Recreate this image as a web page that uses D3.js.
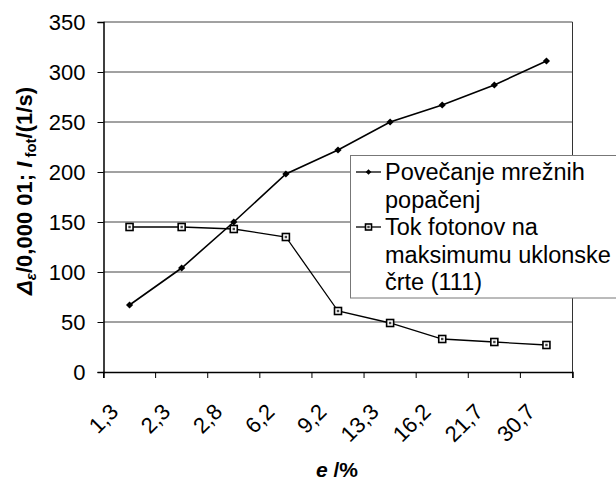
<!DOCTYPE html>
<html>
<head>
<meta charset="utf-8">
<script src="https://cdn.jsdelivr.net/npm/d3@7"></script>
<style>
  body { margin: 0; background: #fff; }
  svg { display: block; font-family: "Liberation Sans", Arial, sans-serif; }
</style>
</head>
<body>
<svg id="chart" width="616" height="481"></svg>
<script>
const categories = ["1,3", "2,3", "2,8", "6,2", "9,2", "13,3", "16,2", "21,7", "30,7"];
const distortion = [67, 104, 150, 198, 222, 250, 267, 287, 311];
const photonFlux = [145, 145, 143, 135, 61, 49, 33, 30, 27];
const yTicks = [0, 50, 100, 150, 200, 250, 300, 350];
const seriesNames = [["Povečanje mrežnih", "popačenj"], ["Tok fotonov na", "maksimumu uklonske", "črte (111)"]];

const svg = d3.select("#chart");
const pLeft = 103.5, pRight = 572.5, pTop = 22, pBottom = 372;

const x = d3.scaleBand().domain(categories).range([pLeft, pRight]).paddingInner(0).paddingOuter(0);
const y = d3.scaleLinear().domain([0, 350]).range([pBottom, pTop]);

// gridlines
svg.append("g").selectAll("line").data(yTicks.filter(d => d > 0)).join("line")
  .attr("x1", pLeft).attr("x2", pRight)
  .attr("y1", d => y(d)).attr("y2", d => y(d))
  .attr("stroke", "#444").attr("stroke-width", 1);

// right border
svg.append("line").attr("x1", pRight).attr("x2", pRight).attr("y1", pTop).attr("y2", pBottom + 6)
  .attr("stroke", "#333").attr("stroke-width", 1);

// y axis
const yAxis = d3.axisLeft(y).tickValues(yTicks).tickSize(6).tickPadding(12).tickFormat(d3.format("d"));
const gy = svg.append("g").attr("transform", `translate(${pLeft},0)`).call(yAxis);
gy.select(".domain").attr("stroke", "#000").attr("stroke-width", 1.5);
gy.selectAll(".tick line").attr("stroke", "#000");
gy.selectAll(".tick text").attr("font-size", 22).attr("fill", "#000")
  .attr("font-family", "Liberation Sans, Arial, sans-serif");

// x axis
const xAxis = d3.axisBottom(x).tickSize(6).tickFormat("");
const gx = svg.append("g").attr("transform", `translate(0,${pBottom})`).call(xAxis);
gx.select(".domain").attr("stroke", "#000").attr("stroke-width", 1.5);
gx.selectAll(".tick").remove();
const bounds = categories.map(c => x(c));
gx.selectAll("line.b").data(bounds).join("line").attr("class", "b")
  .attr("x1", d => d).attr("x2", d => d).attr("y1", 0).attr("y2", 6)
  .attr("stroke", "#000");

// x tick labels rotated
svg.append("g").selectAll("text").data(categories).join("text")
  .attr("transform", d => `translate(${x(d) + x.bandwidth() / 2 - 10},${pBottom + 41}) rotate(-45)`)
  .attr("text-anchor", "end")
  .attr("font-size", 22)
  .attr("fill", "#000")
  .attr("font-family", "Liberation Sans, Arial, sans-serif")
  .text(d => d);

// lines
const cx = d => x(d) + x.bandwidth() / 2;
const line = d3.line().x(d => cx(d[0])).y(d => y(d[1]));
svg.append("path").datum(categories.map((c, i) => [c, distortion[i]]))
  .attr("d", line).attr("fill", "none").attr("stroke", "#000").attr("stroke-width", 1.6);
svg.append("path").datum(categories.map((c, i) => [c, photonFlux[i]]))
  .attr("d", line).attr("fill", "none").attr("stroke", "#000").attr("stroke-width", 1.3);

// markers
const diamond = d3.symbol().type(d3.symbolSquare).size(26);
svg.append("g").selectAll("path").data(categories.map((c, i) => [c, distortion[i]])).join("path")
  .attr("d", diamond)
  .attr("transform", d => `translate(${cx(d[0])},${y(d[1])}) rotate(45)`)
  .attr("fill", "#000");

function squareMarker(g, px, py, s) {
  g.append("rect").attr("x", px - s / 2).attr("y", py - s / 2).attr("width", s).attr("height", s)
    .attr("fill", "#fff").attr("stroke", "#000").attr("stroke-width", 1.6);
  g.append("rect").attr("x", px - 1.2).attr("y", py - 1.2).attr("width", 2.4).attr("height", 2.4)
    .attr("fill", "#444");
}
const sq = svg.append("g");
categories.forEach((c, i) => squareMarker(sq, cx(c), y(photonFlux[i]), 7));

// legend
const lg = svg.append("g");
lg.append("rect").attr("x", 350.5).attr("y", 155.5).attr("width", 270).attr("height", 142.5)
  .attr("fill", "#fff").attr("stroke", "#777").attr("stroke-width", 1);
const lineH = 27.5;
let row = 0;
seriesNames.forEach((names, si) => {
  const baseY = 180 + row * lineH;
  const my = baseY - 8;
  lg.append("line").attr("x1", 356).attr("x2", 381).attr("y1", my).attr("y2", my)
    .attr("stroke", "#000").attr("stroke-width", 1.3);
  if (si === 0) {
    lg.append("path").attr("d", d3.symbol().type(d3.symbolSquare).size(16))
      .attr("transform", `translate(368.5,${my}) rotate(45)`).attr("fill", "#000");
  } else {
    squareMarker(lg, 368.5, my, 6);
  }
  names.forEach((n, j) => {
    lg.append("text").attr("x", 385).attr("y", baseY + j * lineH)
      .attr("font-size", 23.5).attr("fill", "#000").text(n);
  });
  row += names.length;
});

// y axis title
const yt = svg.append("text")
  .attr("transform", `translate(32,191) rotate(-90)`)
  .attr("text-anchor", "middle")
  .attr("font-size", 22).attr("font-weight", "bold").attr("fill", "#000");
yt.append("tspan").attr("font-style", "italic").text("Δ");
yt.append("tspan").attr("font-style", "italic").attr("font-size", 15).attr("dy", 4).text("ε");
yt.append("tspan").attr("dy", -4).text("/0,000 01; ");
yt.append("tspan").attr("font-style", "italic").text("I");
yt.append("tspan").attr("font-size", 15).attr("dy", 4).text(" fot");
yt.append("tspan").attr("dy", -4).text("/(1/s)");

// x axis title
const xt = svg.append("text").attr("x", 337).attr("y", 477).attr("text-anchor", "middle")
  .attr("font-size", 21).attr("font-weight", "bold").attr("fill", "#000");
xt.append("tspan").attr("font-style", "italic").text("e");
xt.append("tspan").text(" /%");
</script>
</body>
</html>
